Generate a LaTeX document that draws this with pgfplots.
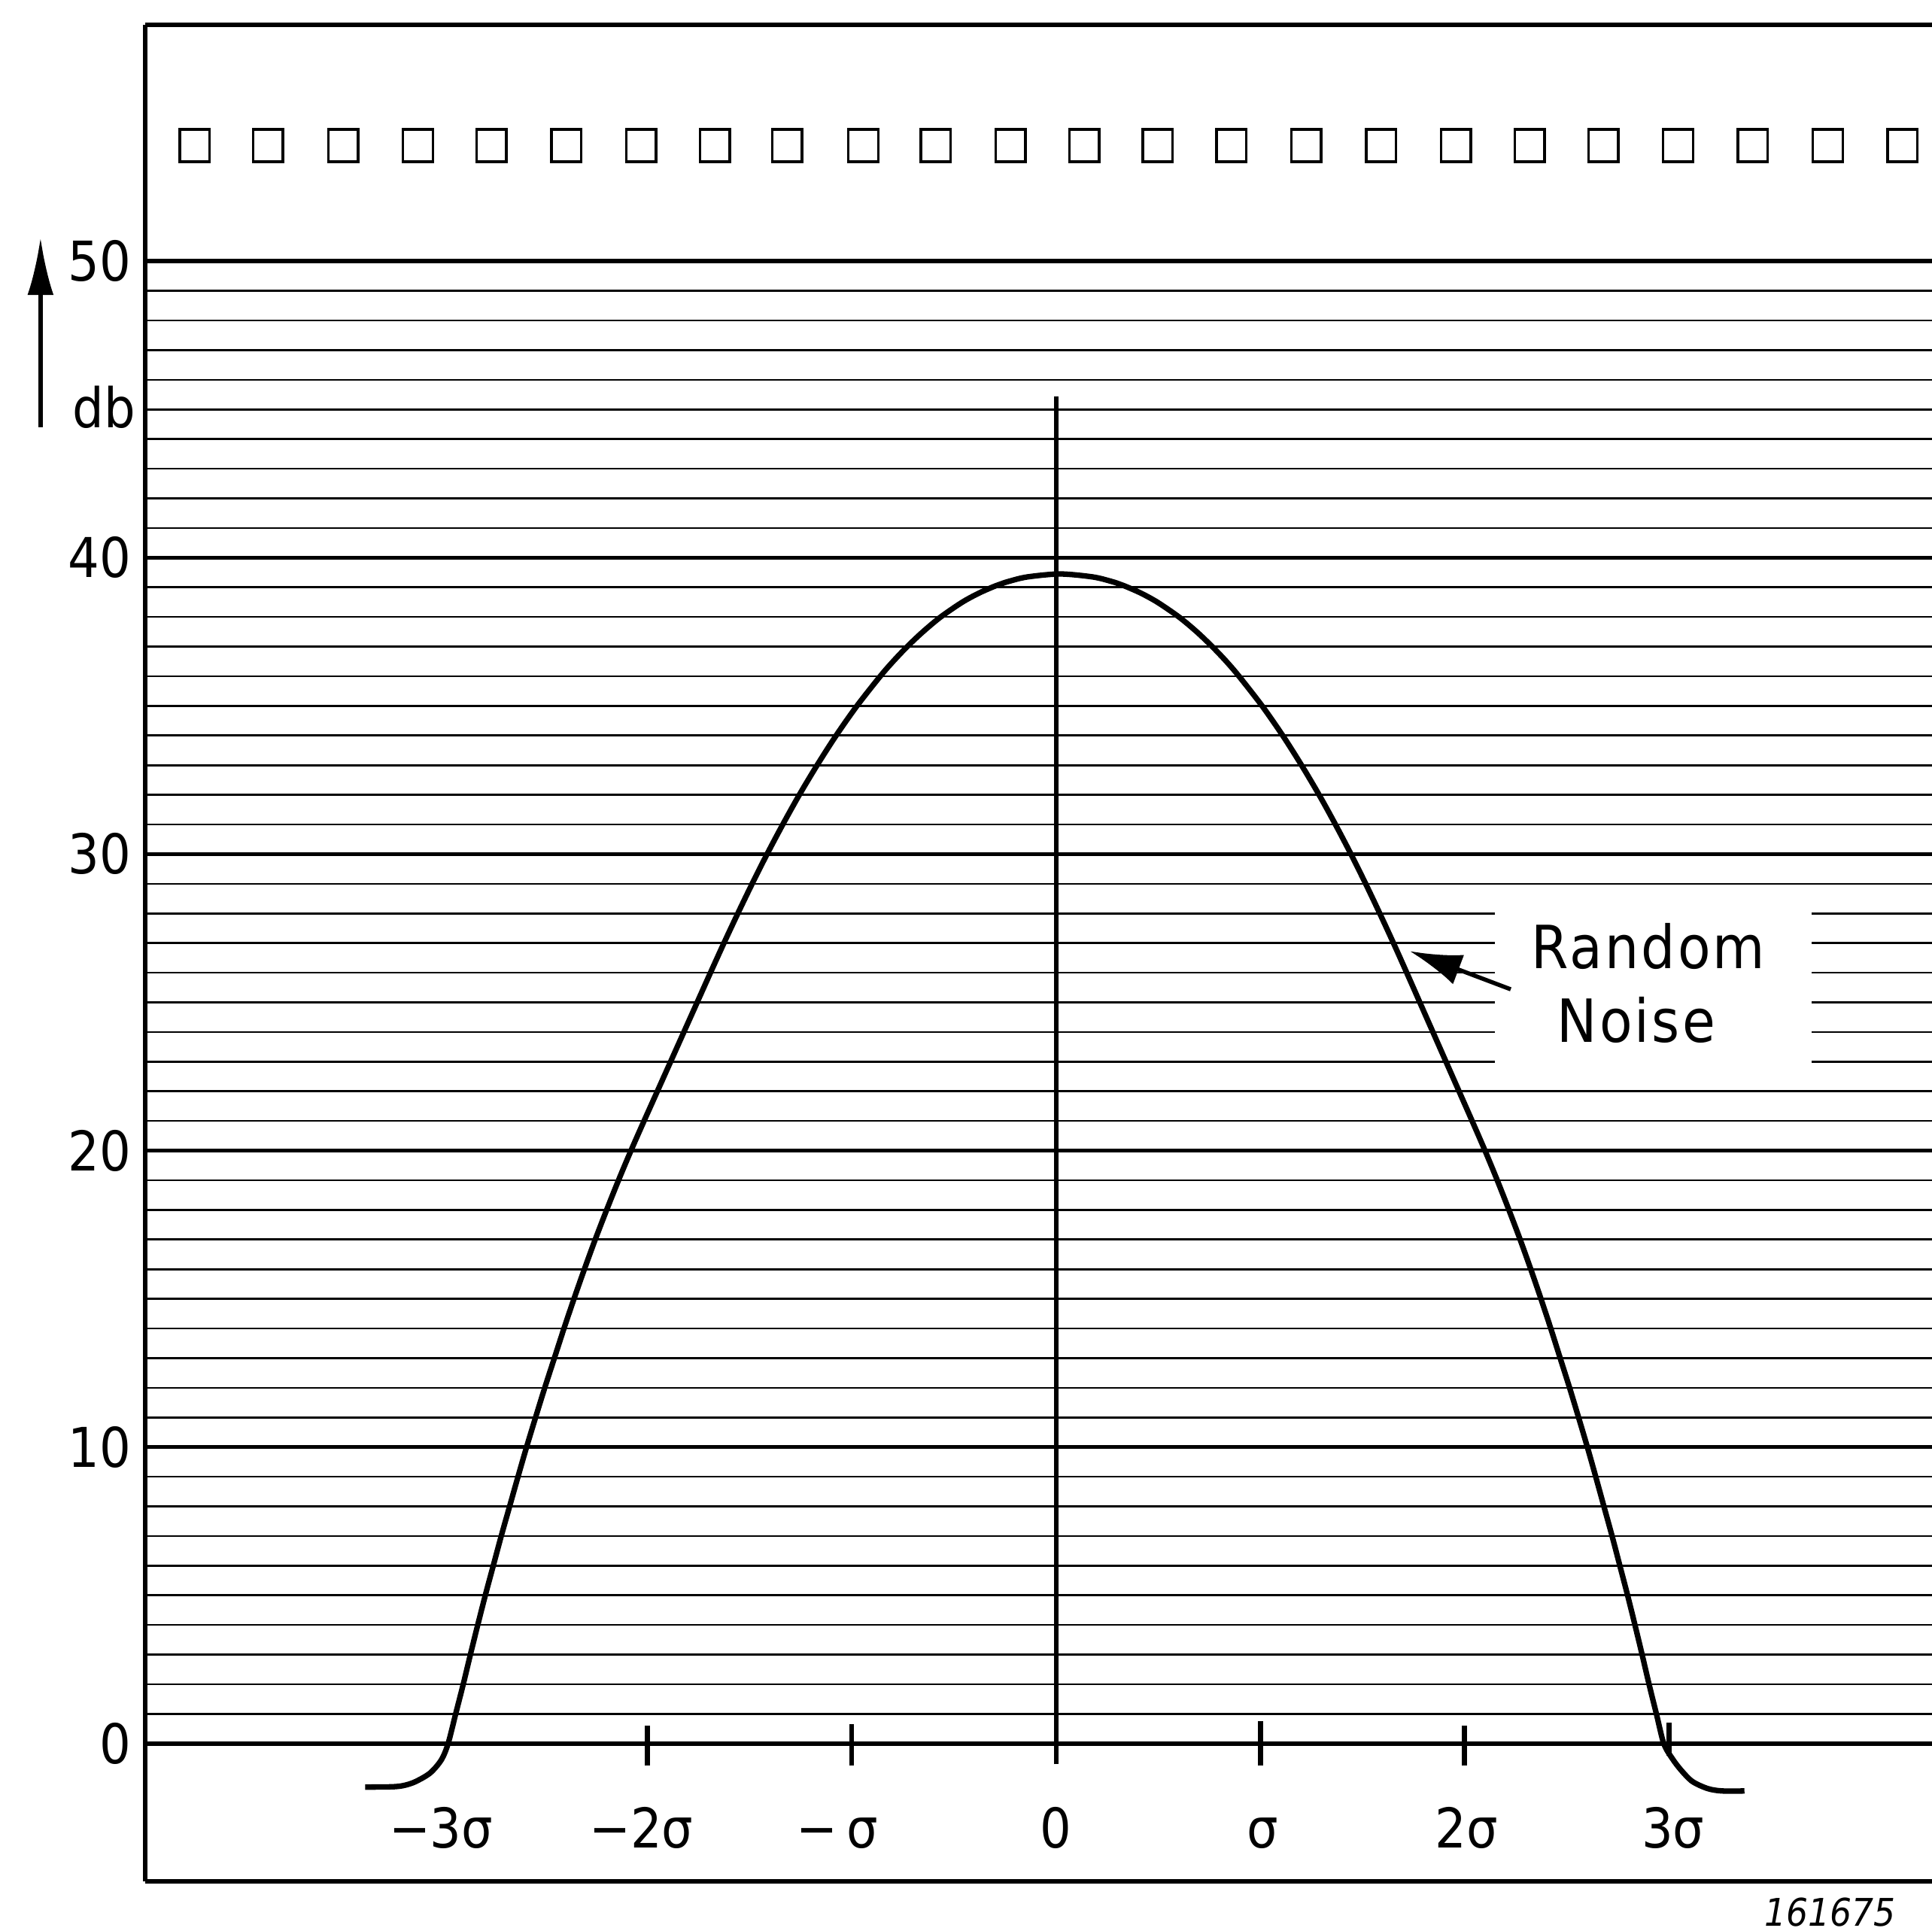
\documentclass[border=0pt]{standalone}
\usepackage{fontspec}
\setmainfont{DejaVu Sans Condensed}
\usepackage{pgfplots}
\pgfplotsset{compat=1.18}
\usetikzlibrary{arrows.meta}

\begin{document}
\begin{tikzpicture}
\begin{axis}[
  scale only axis,
  width=12.022cm, height=12.495cm,
  xmin=-4.457, xmax=4.288,
  ymin=-4.65, ymax=57.98,
  axis x line*=box, axis y line*=left,
  x axis line style={-, line width=0.8pt},
  y axis line style={-, line width=0.8pt},
  xtick=\empty,
  ytick={0,10,20,30,40,50},
  yticklabels={0,10,20,30,40,50},
  minor y tick num=9,
  ymajorgrids, yminorgrids,
  major grid style={black, line width=0.8pt},
  minor grid style={black, line width=0.38pt},
  major tick length=0pt, minor tick length=0pt,
  yticklabel style={font=\fontsize{10.5}{12}\selectfont, inner sep=0pt, xshift=-2.6pt},
  clip=false,
]
\coordinate (BL) at (rel axis cs:0,0);
\coordinate (TR) at (rel axis cs:1,1);

% squares along the top
\addplot[only marks, mark=square, mark size=2.85pt, mark options={line width=0.5pt, black, yscale=1.08}]
coordinates {
(-4.216,53.9) (-3.856,53.9) (-3.489,53.9) (-3.123,53.9) (-2.763,53.9) (-2.396,53.9)
(-2.030,53.9) (-1.670,53.9) (-1.315,53.9) (-0.943,53.9) (-0.589,53.9) (-0.222,53.9)
(0.138,53.9) (0.498,53.9) (0.859,53.9) (1.225,53.9) (1.592,53.9) (1.958,53.9)
(2.318,53.9) (2.679,53.9) (3.045,53.9) (3.411,53.9) (3.778,53.9) (4.144,53.9)
};

% white field behind the label
\fill[white] (axis cs:2.147,22.45) rectangle (axis cs:3.697,28.55);

% vertical zero line and ticks on the 0 dB line
\draw[line width=0.85pt] (axis cs:0,-0.7) -- (axis cs:0,45.43);
\draw[line width=1pt] (axis cs:-2,-0.75) -- (axis cs:-2,0.6);
\draw[line width=1pt] (axis cs:-1,-0.75) -- (axis cs:-1,0.65);
\draw[line width=1pt] (axis cs:1,-0.75) -- (axis cs:1,0.75);
\draw[line width=1pt] (axis cs:2,-0.75) -- (axis cs:2,0.6);
\draw[line width=1pt] (axis cs:3,-0.4) -- (axis cs:3,0.7);

% the curve
\addplot[black, line width=1.05pt, smooth, tension=0.5] coordinates {
(-3.381,-1.47) (-3.25,-1.46) (-3.195,-1.42) (-3.139,-1.3) (-3.064,-1.0) (-3.008,-0.55)
(-2.975,0) (-2.938,1) (-2.901,2) (-2.866,3) (-2.830,4) (-2.793,5) (-2.754,6) (-2.715,7)
(-2.674,8) (-2.633,9) (-2.591,10) (-2.547,11) (-2.502,12) (-2.455,13) (-2.408,14)
(-2.359,15) (-2.308,16) (-2.255,17) (-2.199,18) (-2.141,19) (-2.080,20) (-2.016,21)
(-1.951,22) (-1.886,23) (-1.821,24) (-1.756,25) (-1.691,26) (-1.625,27) (-1.557,28)
(-1.487,29) (-1.414,30) (-1.337,31) (-1.256,32) (-1.169,33) (-1.076,34) (-0.974,35)
(-0.860,36) (-0.797,36.5) (-0.728,37) (-0.651,37.5) (-0.564,38) (-0.458,38.5)
(-0.378,38.8) (-0.313,39) (-0.275,39.1) (-0.231,39.2) (-0.140,39.35) (0.02,39.45)
(0.180,39.35) (0.271,39.2) (0.315,39.1) (0.352,39) (0.417,38.8) (0.496,38.5)
(0.602,38) (0.689,37.5) (0.765,37) (0.834,36.5) (0.896,36) (1.009,35)
(1.110,34) (1.202,33) (1.288,32) (1.368,31) (1.444,30) (1.516,29) (1.585,28)
(1.652,27) (1.717,26) (1.781,25) (1.845,24) (1.909,23) (1.973,22) (2.037,21)
(2.100,20) (2.160,19) (2.217,18) (2.272,17) (2.324,16) (2.374,15) (2.422,14)
(2.468,13) (2.514,12) (2.558,11) (2.601,10) (2.642,9) (2.682,8) (2.722,7) (2.760,6)
(2.798,5) (2.834,4) (2.869,3) (2.903,2) (2.939,1) (2.975,0)
(3.017,-0.51) (3.06,-0.9) (3.115,-1.28) (3.19,-1.52) (3.26,-1.6) (3.37,-1.6)
};

% x labels (in sigma)
\node[anchor=base, font=\fontsize{10.5}{12}\selectfont] at (axis cs:-3.01,-3.53) {−3σ};
\node[anchor=base, font=\fontsize{10.5}{12}\selectfont] at (axis cs:-2.03,-3.53) {−2σ};
\node[anchor=base, font=\fontsize{10.5}{12}\selectfont] at (axis cs:-1.07,-3.53) {−\,σ};
\node[anchor=base, font=\fontsize{10.5}{12}\selectfont] at (axis cs:0,-3.53) {0};
\node[anchor=base, font=\fontsize{10.5}{12}\selectfont] at (axis cs:1.01,-3.53) {σ};
\node[anchor=base, font=\fontsize{10.5}{12}\selectfont] at (axis cs:2.01,-3.53) {2σ};
\node[anchor=base, font=\fontsize{10.5}{12}\selectfont] at (axis cs:3.02,-3.53) {3σ};

% y axis unit with arrow
\draw[line width=0.8pt, -{Latex[length=11pt,width=5pt]}] (axis cs:-4.97,44.4) -- (axis cs:-4.97,50.8);
\node[anchor=base, font=\fontsize{10.5}{12}\selectfont] at (axis cs:-4.66,44.39) {db};

% label with arrow
\node[anchor=base, font=\fontsize{11.4}{13}\selectfont\addfontfeatures{LetterSpace=4}] at (axis cs:2.90,26.14) {Random};
\node[anchor=base, font=\fontsize{11.4}{13}\selectfont\addfontfeatures{LetterSpace=4}] at (axis cs:2.84,23.65) {Noise};
\draw[line width=0.8pt, -{Latex[length=10pt,width=6pt]}] (axis cs:2.226,25.44) -- (axis cs:1.731,26.73);

% figure number
\node[font=\fontsize{7.3}{8}\selectfont\itshape] at (axis cs:3.788,-5.69) {161675};
\end{axis}
\pgfresetboundingbox
\path[use as bounding box] ([xshift=-0.978cm,yshift=-0.332cm]BL) rectangle ([yshift=0.166cm]TR);
\end{tikzpicture}
\end{document}
